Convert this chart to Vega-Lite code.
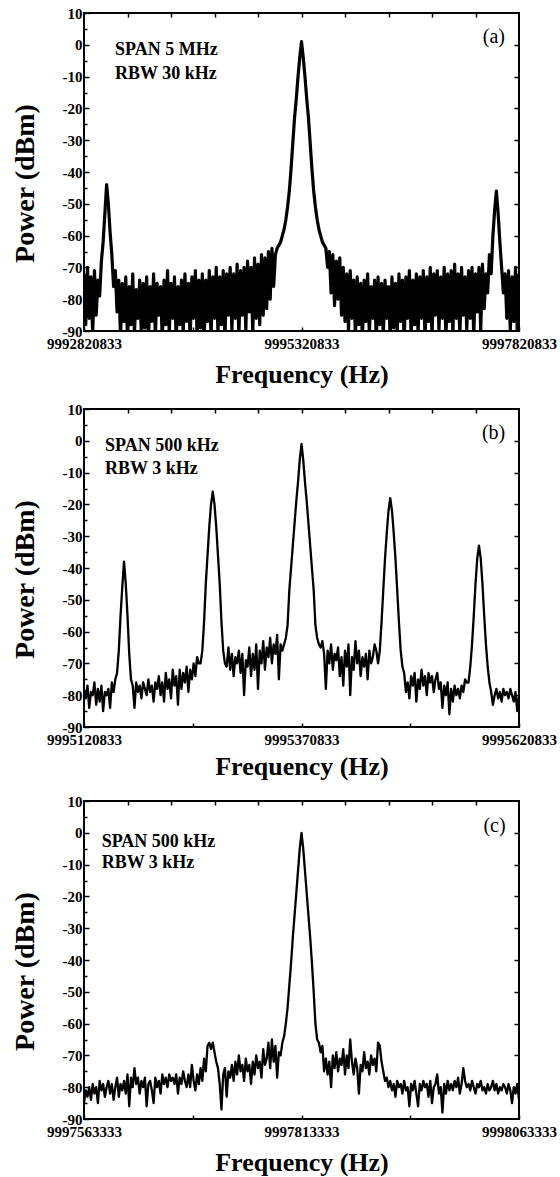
{
"$schema": "https://vega.github.io/schema/vega-lite/v6.json",
"padding": {"left": 10, "top": 5, "right": 0, "bottom": 0},
"spacing": 13,
"config": {
  "view": {"stroke": "black", "strokeWidth": 2},
  "axis": {"domain": false, "grid": false, "labelFont": "Liberation Serif", "labelFontWeight": "bold", "labelFontSize": 15, "labelColor": "black", "titleFont": "Liberation Serif", "titleFontWeight": "bold", "titleFontSize": 26, "titleColor": "black", "tickColor": "black", "tickWidth": 1.5, "labelFlush": false, "labelOverlap": false, "labelBound": false},
  "axisBottom": {"labelPadding": 9, "titlePadding": 10, "tickSize": -4},
  "axisLeft": {"labelPadding": 7, "titlePadding": 23, "titleFontSize": 28, "titleY": 170},
  "text": {"font": "Liberation Serif", "fontWeight": "bold", "fontSize": 18, "color": "black", "align": "left", "baseline": "alphabetic"}
},
"datasets": {
"a": [
{"f":9992820833,"y":-72},{"f":9992840833,"y":-88},{"f":9992860833,"y":-70},{"f":9992880833,"y":-86},{"f":9992900833,"y":-73},{"f":9992920833,"y":-91},{"f":9992940833,"y":-71},{"f":9992960833,"y":-85},{"f":9992980833,"y":-74},{"f":9993000833,"y":-79},
{"f":9993020833,"y":-68},{"f":9993040833,"y":-62},{"f":9993060833,"y":-53},{"f":9993080833,"y":-44},{"f":9993100833,"y":-50},{"f":9993120833,"y":-59},{"f":9993140833,"y":-66},{"f":9993160833,"y":-76},{"f":9993180833,"y":-71},{"f":9993200833,"y":-84},
{"f":9993220833,"y":-74},{"f":9993240833,"y":-92},{"f":9993260833,"y":-75},{"f":9993280833,"y":-87},{"f":9993300833,"y":-73},{"f":9993320833,"y":-93},{"f":9993340833,"y":-76},{"f":9993360833,"y":-88},{"f":9993380833,"y":-72},{"f":9993400833,"y":-91},
{"f":9993420833,"y":-77},{"f":9993440833,"y":-86},{"f":9993460833,"y":-74},{"f":9993480833,"y":-92},{"f":9993500833,"y":-75},{"f":9993520833,"y":-89},{"f":9993540833,"y":-73},{"f":9993560833,"y":-94},{"f":9993580833,"y":-76},{"f":9993600833,"y":-87},
{"f":9993620833,"y":-72},{"f":9993640833,"y":-92},{"f":9993660833,"y":-75},{"f":9993680833,"y":-85},{"f":9993700833,"y":-76},{"f":9993720833,"y":-93},{"f":9993740833,"y":-74},{"f":9993760833,"y":-88},{"f":9993780833,"y":-71},{"f":9993800833,"y":-91},
{"f":9993820833,"y":-75},{"f":9993840833,"y":-86},{"f":9993860833,"y":-73},{"f":9993880833,"y":-94},{"f":9993900833,"y":-76},{"f":9993920833,"y":-88},{"f":9993940833,"y":-74},{"f":9993960833,"y":-91},{"f":9993980833,"y":-72},{"f":9994000833,"y":-87},
{"f":9994020833,"y":-75},{"f":9994040833,"y":-93},{"f":9994060833,"y":-73},{"f":9994080833,"y":-86},{"f":9994100833,"y":-71},{"f":9994120833,"y":-92},{"f":9994140833,"y":-74},{"f":9994160833,"y":-89},{"f":9994180833,"y":-72},{"f":9994200833,"y":-94},
{"f":9994220833,"y":-74},{"f":9994240833,"y":-87},{"f":9994260833,"y":-71},{"f":9994280833,"y":-92},{"f":9994300833,"y":-73},{"f":9994320833,"y":-86},{"f":9994340833,"y":-70},{"f":9994360833,"y":-91},{"f":9994380833,"y":-73},{"f":9994400833,"y":-88},
{"f":9994420833,"y":-71},{"f":9994440833,"y":-93},{"f":9994460833,"y":-72},{"f":9994480833,"y":-85},{"f":9994500833,"y":-70},{"f":9994520833,"y":-90},{"f":9994540833,"y":-72},{"f":9994560833,"y":-86},{"f":9994580833,"y":-69},{"f":9994600833,"y":-92},
{"f":9994620833,"y":-71},{"f":9994640833,"y":-85},{"f":9994660833,"y":-70},{"f":9994680833,"y":-90},{"f":9994700833,"y":-68},{"f":9994720833,"y":-84},{"f":9994740833,"y":-70},{"f":9994760833,"y":-91},{"f":9994780833,"y":-67},{"f":9994800833,"y":-86},
{"f":9994820833,"y":-69},{"f":9994840833,"y":-88},{"f":9994860833,"y":-66},{"f":9994880833,"y":-85},{"f":9994900833,"y":-67},{"f":9994920833,"y":-83},{"f":9994940833,"y":-65},{"f":9994960833,"y":-80},{"f":9994980833,"y":-64},{"f":9995000833,"y":-76},
{"f":9995020833,"y":-66},{"f":9995040833,"y":-64},{"f":9995060833,"y":-63},{"f":9995080833,"y":-62},{"f":9995100833,"y":-60},{"f":9995120833,"y":-58},{"f":9995140833,"y":-55},{"f":9995160833,"y":-51},{"f":9995180833,"y":-46},{"f":9995200833,"y":-39},
{"f":9995220833,"y":-31},{"f":9995240833,"y":-23},{"f":9995260833,"y":-17},{"f":9995280833,"y":-10},{"f":9995300833,"y":-4},{"f":9995320833,"y":1},{"f":9995340833,"y":-4},{"f":9995360833,"y":-10},{"f":9995380833,"y":-17},{"f":9995400833,"y":-23},
{"f":9995420833,"y":-31},{"f":9995440833,"y":-39},{"f":9995460833,"y":-46},{"f":9995480833,"y":-51},{"f":9995500833,"y":-55},{"f":9995520833,"y":-58},{"f":9995540833,"y":-60},{"f":9995560833,"y":-62},{"f":9995580833,"y":-63},{"f":9995600833,"y":-64},
{"f":9995620833,"y":-70},{"f":9995640833,"y":-65},{"f":9995660833,"y":-78},{"f":9995680833,"y":-66},{"f":9995700833,"y":-82},{"f":9995720833,"y":-68},{"f":9995740833,"y":-80},{"f":9995760833,"y":-67},{"f":9995780833,"y":-85},{"f":9995800833,"y":-70},
{"f":9995820833,"y":-87},{"f":9995840833,"y":-72},{"f":9995860833,"y":-90},{"f":9995880833,"y":-71},{"f":9995900833,"y":-86},{"f":9995920833,"y":-74},{"f":9995940833,"y":-92},{"f":9995960833,"y":-73},{"f":9995980833,"y":-88},{"f":9996000833,"y":-75},
{"f":9996020833,"y":-93},{"f":9996040833,"y":-74},{"f":9996060833,"y":-87},{"f":9996080833,"y":-72},{"f":9996100833,"y":-91},{"f":9996120833,"y":-76},{"f":9996140833,"y":-86},{"f":9996160833,"y":-74},{"f":9996180833,"y":-94},{"f":9996200833,"y":-73},
{"f":9996220833,"y":-88},{"f":9996240833,"y":-75},{"f":9996260833,"y":-92},{"f":9996280833,"y":-74},{"f":9996300833,"y":-86},{"f":9996320833,"y":-76},{"f":9996340833,"y":-93},{"f":9996360833,"y":-73},{"f":9996380833,"y":-89},{"f":9996400833,"y":-75},
{"f":9996420833,"y":-91},{"f":9996440833,"y":-72},{"f":9996460833,"y":-87},{"f":9996480833,"y":-74},{"f":9996500833,"y":-94},{"f":9996520833,"y":-73},{"f":9996540833,"y":-86},{"f":9996560833,"y":-71},{"f":9996580833,"y":-92},{"f":9996600833,"y":-74},
{"f":9996620833,"y":-88},{"f":9996640833,"y":-72},{"f":9996660833,"y":-91},{"f":9996680833,"y":-73},{"f":9996700833,"y":-86},{"f":9996720833,"y":-71},{"f":9996740833,"y":-93},{"f":9996760833,"y":-73},{"f":9996780833,"y":-87},{"f":9996800833,"y":-70},
{"f":9996820833,"y":-92},{"f":9996840833,"y":-72},{"f":9996860833,"y":-85},{"f":9996880833,"y":-71},{"f":9996900833,"y":-90},{"f":9996920833,"y":-73},{"f":9996940833,"y":-86},{"f":9996960833,"y":-70},{"f":9996980833,"y":-93},{"f":9997000833,"y":-72},
{"f":9997020833,"y":-87},{"f":9997040833,"y":-71},{"f":9997060833,"y":-91},{"f":9997080833,"y":-69},{"f":9997100833,"y":-86},{"f":9997120833,"y":-72},{"f":9997140833,"y":-92},{"f":9997160833,"y":-70},{"f":9997180833,"y":-85},{"f":9997200833,"y":-73},
{"f":9997220833,"y":-90},{"f":9997240833,"y":-71},{"f":9997260833,"y":-86},{"f":9997280833,"y":-70},{"f":9997300833,"y":-92},{"f":9997320833,"y":-72},{"f":9997340833,"y":-84},{"f":9997360833,"y":-70},{"f":9997380833,"y":-90},{"f":9997400833,"y":-69},
{"f":9997420833,"y":-83},{"f":9997440833,"y":-72},{"f":9997460833,"y":-78},{"f":9997480833,"y":-66},{"f":9997500833,"y":-72},{"f":9997520833,"y":-60},{"f":9997540833,"y":-52},{"f":9997560833,"y":-46},{"f":9997580833,"y":-53},{"f":9997600833,"y":-62},
{"f":9997620833,"y":-70},{"f":9997640833,"y":-78},{"f":9997660833,"y":-72},{"f":9997680833,"y":-86},{"f":9997700833,"y":-71},{"f":9997720833,"y":-90},{"f":9997740833,"y":-73},{"f":9997760833,"y":-87},{"f":9997780833,"y":-70},{"f":9997800833,"y":-91},
{"f":9997820833,"y":-72}
],
"b": [
{"f":9995120833,"y":-78},{"f":9995122833,"y":-81},{"f":9995124833,"y":-77},{"f":9995126833,"y":-84},{"f":9995128833,"y":-79},{"f":9995130833,"y":-80},{"f":9995132833,"y":-76},{"f":9995134833,"y":-83},{"f":9995136833,"y":-78},{"f":9995138833,"y":-82},
{"f":9995140833,"y":-77},{"f":9995142833,"y":-85},{"f":9995144833,"y":-79},{"f":9995146833,"y":-80},{"f":9995148833,"y":-78},{"f":9995150833,"y":-84},{"f":9995152833,"y":-76},{"f":9995154833,"y":-79},{"f":9995156833,"y":-75},{"f":9995158833,"y":-73},
{"f":9995160833,"y":-66},{"f":9995162833,"y":-55},{"f":9995164833,"y":-46},{"f":9995166833,"y":-38},{"f":9995168833,"y":-45},{"f":9995170833,"y":-55},{"f":9995172833,"y":-67},{"f":9995174833,"y":-75},{"f":9995176833,"y":-77},{"f":9995178833,"y":-84},
{"f":9995180833,"y":-76},{"f":9995182833,"y":-79},{"f":9995184833,"y":-77},{"f":9995186833,"y":-81},{"f":9995188833,"y":-76},{"f":9995190833,"y":-78},{"f":9995192833,"y":-80},{"f":9995194833,"y":-75},{"f":9995196833,"y":-79},{"f":9995198833,"y":-77},
{"f":9995200833,"y":-82},{"f":9995202833,"y":-76},{"f":9995204833,"y":-78},{"f":9995206833,"y":-74},{"f":9995208833,"y":-80},{"f":9995210833,"y":-76},{"f":9995212833,"y":-82},{"f":9995214833,"y":-73},{"f":9995216833,"y":-78},{"f":9995218833,"y":-75},
{"f":9995220833,"y":-81},{"f":9995222833,"y":-72},{"f":9995224833,"y":-77},{"f":9995226833,"y":-74},{"f":9995228833,"y":-83},{"f":9995230833,"y":-72},{"f":9995232833,"y":-78},{"f":9995234833,"y":-73},{"f":9995236833,"y":-76},{"f":9995238833,"y":-71},
{"f":9995240833,"y":-79},{"f":9995242833,"y":-72},{"f":9995244833,"y":-75},{"f":9995246833,"y":-70},{"f":9995248833,"y":-74},{"f":9995250833,"y":-68},{"f":9995252833,"y":-70},{"f":9995254833,"y":-70},{"f":9995256833,"y":-66},{"f":9995258833,"y":-57},
{"f":9995260833,"y":-45},{"f":9995262833,"y":-36},{"f":9995264833,"y":-27},{"f":9995266833,"y":-20},{"f":9995268833,"y":-16},{"f":9995270833,"y":-20},{"f":9995272833,"y":-27},{"f":9995274833,"y":-36},{"f":9995276833,"y":-45},{"f":9995278833,"y":-57},
{"f":9995280833,"y":-66},{"f":9995282833,"y":-70},{"f":9995284833,"y":-71},{"f":9995286833,"y":-65},{"f":9995288833,"y":-72},{"f":9995290833,"y":-67},{"f":9995292833,"y":-74},{"f":9995294833,"y":-68},{"f":9995296833,"y":-70},{"f":9995298833,"y":-66},
{"f":9995300833,"y":-73},{"f":9995302833,"y":-67},{"f":9995304833,"y":-80},{"f":9995306833,"y":-69},{"f":9995308833,"y":-71},{"f":9995310833,"y":-65},{"f":9995312833,"y":-74},{"f":9995314833,"y":-67},{"f":9995316833,"y":-72},{"f":9995318833,"y":-64},
{"f":9995320833,"y":-78},{"f":9995322833,"y":-66},{"f":9995324833,"y":-70},{"f":9995326833,"y":-63},{"f":9995328833,"y":-72},{"f":9995330833,"y":-65},{"f":9995332833,"y":-68},{"f":9995334833,"y":-62},{"f":9995336833,"y":-70},{"f":9995338833,"y":-64},
{"f":9995340833,"y":-67},{"f":9995342833,"y":-61},{"f":9995344833,"y":-75},{"f":9995346833,"y":-64},{"f":9995348833,"y":-66},{"f":9995350833,"y":-64},{"f":9995352833,"y":-62},{"f":9995354833,"y":-58},{"f":9995356833,"y":-47},{"f":9995358833,"y":-40},
{"f":9995360833,"y":-33},{"f":9995362833,"y":-26},{"f":9995364833,"y":-19},{"f":9995366833,"y":-13},{"f":9995368833,"y":-6},{"f":9995370833,"y":-1},{"f":9995372833,"y":-6},{"f":9995374833,"y":-13},{"f":9995376833,"y":-19},{"f":9995378833,"y":-26},
{"f":9995380833,"y":-33},{"f":9995382833,"y":-40},{"f":9995384833,"y":-47},{"f":9995386833,"y":-58},{"f":9995388833,"y":-62},{"f":9995390833,"y":-64},{"f":9995392833,"y":-65},{"f":9995394833,"y":-63},{"f":9995396833,"y":-67},{"f":9995398833,"y":-78},
{"f":9995400833,"y":-66},{"f":9995402833,"y":-70},{"f":9995404833,"y":-64},{"f":9995406833,"y":-72},{"f":9995408833,"y":-67},{"f":9995410833,"y":-69},{"f":9995412833,"y":-65},{"f":9995414833,"y":-74},{"f":9995416833,"y":-68},{"f":9995418833,"y":-77},
{"f":9995420833,"y":-66},{"f":9995422833,"y":-71},{"f":9995424833,"y":-64},{"f":9995426833,"y":-80},{"f":9995428833,"y":-68},{"f":9995430833,"y":-72},{"f":9995432833,"y":-63},{"f":9995434833,"y":-70},{"f":9995436833,"y":-66},{"f":9995438833,"y":-74},
{"f":9995440833,"y":-68},{"f":9995442833,"y":-71},{"f":9995444833,"y":-67},{"f":9995446833,"y":-75},{"f":9995448833,"y":-66},{"f":9995450833,"y":-70},{"f":9995452833,"y":-68},{"f":9995454833,"y":-64},{"f":9995456833,"y":-66},{"f":9995458833,"y":-70},
{"f":9995460833,"y":-66},{"f":9995462833,"y":-57},{"f":9995464833,"y":-47},{"f":9995466833,"y":-37},{"f":9995468833,"y":-29},{"f":9995470833,"y":-22},{"f":9995472833,"y":-18},{"f":9995474833,"y":-22},{"f":9995476833,"y":-29},{"f":9995478833,"y":-37},
{"f":9995480833,"y":-47},{"f":9995482833,"y":-57},{"f":9995484833,"y":-66},{"f":9995486833,"y":-71},{"f":9995488833,"y":-73},{"f":9995490833,"y":-79},{"f":9995492833,"y":-76},{"f":9995494833,"y":-81},{"f":9995496833,"y":-74},{"f":9995498833,"y":-77},
{"f":9995500833,"y":-73},{"f":9995502833,"y":-82},{"f":9995504833,"y":-75},{"f":9995506833,"y":-78},{"f":9995508833,"y":-72},{"f":9995510833,"y":-77},{"f":9995512833,"y":-74},{"f":9995514833,"y":-80},{"f":9995516833,"y":-73},{"f":9995518833,"y":-76},
{"f":9995520833,"y":-74},{"f":9995522833,"y":-79},{"f":9995524833,"y":-75},{"f":9995526833,"y":-73},{"f":9995528833,"y":-78},{"f":9995530833,"y":-76},{"f":9995532833,"y":-84},{"f":9995534833,"y":-77},{"f":9995536833,"y":-80},{"f":9995538833,"y":-76},
{"f":9995540833,"y":-86},{"f":9995542833,"y":-78},{"f":9995544833,"y":-82},{"f":9995546833,"y":-77},{"f":9995548833,"y":-80},{"f":9995550833,"y":-78},{"f":9995552833,"y":-81},{"f":9995554833,"y":-77},{"f":9995556833,"y":-79},{"f":9995558833,"y":-75},
{"f":9995560833,"y":-76},{"f":9995562833,"y":-76},{"f":9995564833,"y":-71},{"f":9995566833,"y":-64},{"f":9995568833,"y":-55},{"f":9995570833,"y":-45},{"f":9995572833,"y":-37},{"f":9995574833,"y":-33},{"f":9995576833,"y":-37},{"f":9995578833,"y":-45},
{"f":9995580833,"y":-55},{"f":9995582833,"y":-64},{"f":9995584833,"y":-71},{"f":9995586833,"y":-76},{"f":9995588833,"y":-79},{"f":9995590833,"y":-83},{"f":9995592833,"y":-80},{"f":9995594833,"y":-78},{"f":9995596833,"y":-81},{"f":9995598833,"y":-79},
{"f":9995600833,"y":-82},{"f":9995602833,"y":-78},{"f":9995604833,"y":-80},{"f":9995606833,"y":-79},{"f":9995608833,"y":-81},{"f":9995610833,"y":-78},{"f":9995612833,"y":-80},{"f":9995614833,"y":-82},{"f":9995616833,"y":-79},{"f":9995618833,"y":-85},
{"f":9995620833,"y":-80}
],
"c": [
{"f":9997563333,"y":-85},{"f":9997565333,"y":-81},{"f":9997567333,"y":-83},{"f":9997569333,"y":-80},{"f":9997571333,"y":-84},{"f":9997573333,"y":-79},{"f":9997575333,"y":-82},{"f":9997577333,"y":-80},{"f":9997579333,"y":-85},{"f":9997581333,"y":-78},
{"f":9997583333,"y":-81},{"f":9997585333,"y":-79},{"f":9997587333,"y":-83},{"f":9997589333,"y":-80},{"f":9997591333,"y":-78},{"f":9997593333,"y":-82},{"f":9997595333,"y":-79},{"f":9997597333,"y":-84},{"f":9997599333,"y":-80},{"f":9997601333,"y":-77},
{"f":9997603333,"y":-83},{"f":9997605333,"y":-79},{"f":9997607333,"y":-81},{"f":9997609333,"y":-78},{"f":9997611333,"y":-82},{"f":9997613333,"y":-76},{"f":9997615333,"y":-86},{"f":9997617333,"y":-77},{"f":9997619333,"y":-80},{"f":9997621333,"y":-74},
{"f":9997623333,"y":-79},{"f":9997625333,"y":-77},{"f":9997627333,"y":-82},{"f":9997629333,"y":-78},{"f":9997631333,"y":-80},{"f":9997633333,"y":-77},{"f":9997635333,"y":-86},{"f":9997637333,"y":-79},{"f":9997639333,"y":-78},{"f":9997641333,"y":-81},
{"f":9997643333,"y":-85},{"f":9997645333,"y":-77},{"f":9997647333,"y":-80},{"f":9997649333,"y":-78},{"f":9997651333,"y":-82},{"f":9997653333,"y":-76},{"f":9997655333,"y":-79},{"f":9997657333,"y":-77},{"f":9997659333,"y":-80},{"f":9997661333,"y":-76},
{"f":9997663333,"y":-78},{"f":9997665333,"y":-77},{"f":9997667333,"y":-79},{"f":9997669333,"y":-76},{"f":9997671333,"y":-82},{"f":9997673333,"y":-77},{"f":9997675333,"y":-79},{"f":9997677333,"y":-75},{"f":9997679333,"y":-78},{"f":9997681333,"y":-80},
{"f":9997683333,"y":-76},{"f":9997685333,"y":-80},{"f":9997687333,"y":-73},{"f":9997689333,"y":-78},{"f":9997691333,"y":-81},{"f":9997693333,"y":-76},{"f":9997695333,"y":-79},{"f":9997697333,"y":-74},{"f":9997699333,"y":-78},{"f":9997701333,"y":-71},
{"f":9997703333,"y":-75},{"f":9997705333,"y":-67},{"f":9997707333,"y":-66},{"f":9997709333,"y":-68},{"f":9997711333,"y":-66},{"f":9997713333,"y":-69},{"f":9997715333,"y":-72},{"f":9997717333,"y":-74},{"f":9997719333,"y":-79},{"f":9997721333,"y":-87},
{"f":9997723333,"y":-76},{"f":9997725333,"y":-74},{"f":9997727333,"y":-83},{"f":9997729333,"y":-75},{"f":9997731333,"y":-77},{"f":9997733333,"y":-73},{"f":9997735333,"y":-78},{"f":9997737333,"y":-72},{"f":9997739333,"y":-76},{"f":9997741333,"y":-70},
{"f":9997743333,"y":-75},{"f":9997745333,"y":-73},{"f":9997747333,"y":-78},{"f":9997749333,"y":-71},{"f":9997751333,"y":-75},{"f":9997753333,"y":-73},{"f":9997755333,"y":-79},{"f":9997757333,"y":-72},{"f":9997759333,"y":-76},{"f":9997761333,"y":-70},
{"f":9997763333,"y":-74},{"f":9997765333,"y":-72},{"f":9997767333,"y":-77},{"f":9997769333,"y":-68},{"f":9997771333,"y":-73},{"f":9997773333,"y":-71},{"f":9997775333,"y":-66},{"f":9997777333,"y":-74},{"f":9997779333,"y":-65},{"f":9997781333,"y":-72},
{"f":9997783333,"y":-67},{"f":9997785333,"y":-77},{"f":9997787333,"y":-69},{"f":9997789333,"y":-70},{"f":9997791333,"y":-66},{"f":9997793333,"y":-64},{"f":9997795333,"y":-60},{"f":9997797333,"y":-55},{"f":9997799333,"y":-48},{"f":9997801333,"y":-41},
{"f":9997803333,"y":-33},{"f":9997805333,"y":-26},{"f":9997807333,"y":-19},{"f":9997809333,"y":-12},{"f":9997811333,"y":-5},{"f":9997813333,"y":0},{"f":9997815333,"y":-5},{"f":9997817333,"y":-12},{"f":9997819333,"y":-19},{"f":9997821333,"y":-26},
{"f":9997823333,"y":-33},{"f":9997825333,"y":-41},{"f":9997827333,"y":-50},{"f":9997829333,"y":-60},{"f":9997831333,"y":-65},{"f":9997833333,"y":-66},{"f":9997835333,"y":-69},{"f":9997837333,"y":-67},{"f":9997839333,"y":-75},{"f":9997841333,"y":-71},
{"f":9997843333,"y":-76},{"f":9997845333,"y":-72},{"f":9997847333,"y":-80},{"f":9997849333,"y":-70},{"f":9997851333,"y":-74},{"f":9997853333,"y":-69},{"f":9997855333,"y":-75},{"f":9997857333,"y":-71},{"f":9997859333,"y":-73},{"f":9997861333,"y":-68},
{"f":9997863333,"y":-76},{"f":9997865333,"y":-70},{"f":9997867333,"y":-74},{"f":9997869333,"y":-65},{"f":9997871333,"y":-72},{"f":9997873333,"y":-76},{"f":9997875333,"y":-71},{"f":9997877333,"y":-74},{"f":9997879333,"y":-82},{"f":9997881333,"y":-73},
{"f":9997883333,"y":-75},{"f":9997885333,"y":-69},{"f":9997887333,"y":-74},{"f":9997889333,"y":-72},{"f":9997891333,"y":-76},{"f":9997893333,"y":-70},{"f":9997895333,"y":-73},{"f":9997897333,"y":-71},{"f":9997899333,"y":-75},{"f":9997901333,"y":-66},
{"f":9997903333,"y":-67},{"f":9997905333,"y":-72},{"f":9997907333,"y":-75},{"f":9997909333,"y":-78},{"f":9997911333,"y":-77},{"f":9997913333,"y":-80},{"f":9997915333,"y":-78},{"f":9997917333,"y":-81},{"f":9997919333,"y":-79},{"f":9997921333,"y":-83},
{"f":9997923333,"y":-78},{"f":9997925333,"y":-80},{"f":9997927333,"y":-79},{"f":9997929333,"y":-82},{"f":9997931333,"y":-78},{"f":9997933333,"y":-81},{"f":9997935333,"y":-80},{"f":9997937333,"y":-86},{"f":9997939333,"y":-79},{"f":9997941333,"y":-81},
{"f":9997943333,"y":-78},{"f":9997945333,"y":-82},{"f":9997947333,"y":-86},{"f":9997949333,"y":-79},{"f":9997951333,"y":-81},{"f":9997953333,"y":-78},{"f":9997955333,"y":-80},{"f":9997957333,"y":-79},{"f":9997959333,"y":-83},{"f":9997961333,"y":-78},
{"f":9997963333,"y":-85},{"f":9997965333,"y":-80},{"f":9997967333,"y":-79},{"f":9997969333,"y":-76},{"f":9997971333,"y":-82},{"f":9997973333,"y":-80},{"f":9997975333,"y":-88},{"f":9997977333,"y":-79},{"f":9997979333,"y":-82},{"f":9997981333,"y":-78},
{"f":9997983333,"y":-81},{"f":9997985333,"y":-79},{"f":9997987333,"y":-81},{"f":9997989333,"y":-78},{"f":9997991333,"y":-80},{"f":9997993333,"y":-77},{"f":9997995333,"y":-82},{"f":9997997333,"y":-79},{"f":9997999333,"y":-74},{"f":9998001333,"y":-78},
{"f":9998003333,"y":-80},{"f":9998005333,"y":-79},{"f":9998007333,"y":-81},{"f":9998009333,"y":-78},{"f":9998011333,"y":-80},{"f":9998013333,"y":-82},{"f":9998015333,"y":-79},{"f":9998017333,"y":-80},{"f":9998019333,"y":-78},{"f":9998021333,"y":-81},
{"f":9998023333,"y":-80},{"f":9998025333,"y":-82},{"f":9998027333,"y":-79},{"f":9998029333,"y":-81},{"f":9998031333,"y":-80},{"f":9998033333,"y":-78},{"f":9998035333,"y":-81},{"f":9998037333,"y":-79},{"f":9998039333,"y":-82},{"f":9998041333,"y":-80},
{"f":9998043333,"y":-81},{"f":9998045333,"y":-79},{"f":9998047333,"y":-80},{"f":9998049333,"y":-82},{"f":9998051333,"y":-79},{"f":9998053333,"y":-81},{"f":9998055333,"y":-85},{"f":9998057333,"y":-80},{"f":9998059333,"y":-82},{"f":9998061333,"y":-79},
{"f":9998063333,"y":-84}
]
},
"vconcat": [
{
 "width": 435, "height": 318,
 "layer": [
  {"data": {"name": "a"},
   "mark": {"type": "line", "color": "black", "strokeWidth": 3.2, "strokeJoin": "round", "clip": true},
   "encoding": {
    "x": {"field": "f", "type": "quantitative", "scale": {"domain": [9992820833, 9997820833], "nice": false, "zero": false},
          "axis": {"orient": "bottom", "title": "Frequency (Hz)", "values": [9992820833, 9994070833, 9995320833, 9996570833, 9997820833], "labelExpr": "(datum.value - 9992820833) % 2500000 === 0 ? '' + datum.value : ''"}},
    "y": {"field": "y", "type": "quantitative", "scale": {"domain": [-90, 10], "nice": false, "zero": false},
          "axis": {"orient": "left", "title": "Power (dBm)", "values": [-90,-85,-80,-75,-70,-65,-60,-55,-50,-45,-40,-35,-30,-25,-20,-15,-10,-5,0,5,10], "labelExpr": "datum.value % 10 === 0 ? '' + datum.value : ''", "tickSize": {"condition": {"test": "datum.value % 10 === 0", "value": -5}, "value": -3}}}
   }},
  {"data": {"name": "a"},
   "mark": {"type": "line", "opacity": 0},
   "encoding": {
    "x": {"field": "f", "type": "quantitative", "axis": {"orient": "top", "title": null, "labels": false, "tickSize": -4, "values": [9993320833, 9993820833, 9994320833, 9994820833, 9995320833, 9995820833, 9996320833, 9996820833, 9997320833]}},
    "y": {"field": "y", "type": "quantitative", "axis": {"orient": "right", "title": null, "labels": false, "tickSize": -5, "values": [-80,-70,-60,-50,-40,-30,-20,-10,0]}}
   }},
  {"data": {"values": [{"t": "SPAN 5 MHz"}]}, "mark": {"type": "text"},
   "encoding": {"text": {"field": "t"}, "x": {"datum": 9993177000, "type": "quantitative", "axis": null}, "y": {"datum": -3.2, "type": "quantitative", "axis": null}}},
  {"data": {"values": [{"t": "RBW 30 kHz"}]}, "mark": {"type": "text"},
   "encoding": {"text": {"field": "t"}, "x": {"datum": 9993177000, "type": "quantitative", "axis": null}, "y": {"datum": -10.8, "type": "quantitative", "axis": null}}},
  {"data": {"values": [{"t": "(a)"}]}, "mark": {"type": "text", "fontWeight": "normal", "fontSize": 20, "align": "right"},
   "encoding": {"text": {"field": "t"}, "x": {"datum": 9997660000, "type": "quantitative", "axis": null}, "y": {"datum": 0.6, "type": "quantitative", "axis": null}}}
 ],
 "resolve": {"axis": {"x": "independent", "y": "independent"}}
},
{
 "width": 435, "height": 318,
 "layer": [
  {"data": {"name": "b"},
   "mark": {"type": "line", "color": "black", "strokeWidth": 2.3, "strokeJoin": "round", "clip": true},
   "encoding": {
    "x": {"field": "f", "type": "quantitative", "scale": {"domain": [9995120833, 9995620833], "nice": false, "zero": false},
          "axis": {"orient": "bottom", "title": "Frequency (Hz)", "titlePadding": 6, "values": [9995120833, 9995245833, 9995370833, 9995495833, 9995620833], "labelExpr": "(datum.value - 9995120833) % 250000 === 0 ? '' + datum.value : ''"}},
    "y": {"field": "y", "type": "quantitative", "scale": {"domain": [-90, 10], "nice": false, "zero": false},
          "axis": {"orient": "left", "title": "Power (dBm)", "values": [-90,-85,-80,-75,-70,-65,-60,-55,-50,-45,-40,-35,-30,-25,-20,-15,-10,-5,0,5,10], "labelExpr": "datum.value % 10 === 0 ? '' + datum.value : ''", "tickSize": {"condition": {"test": "datum.value % 10 === 0", "value": -5}, "value": -3}}}
   }},
  {"data": {"name": "b"},
   "mark": {"type": "line", "opacity": 0},
   "encoding": {
    "x": {"field": "f", "type": "quantitative", "axis": {"orient": "top", "title": null, "labels": false, "tickSize": -4, "values": [9995170833, 9995220833, 9995270833, 9995320833, 9995370833, 9995420833, 9995470833, 9995520833, 9995570833]}},
    "y": {"field": "y", "type": "quantitative", "axis": {"orient": "right", "title": null, "labels": false, "tickSize": -5, "values": [-80,-70,-60,-50,-40,-30,-20,-10,0]}}
   }},
  {"data": {"values": [{"t": "SPAN 500 kHz"}]}, "mark": {"type": "text"},
   "encoding": {"text": {"field": "t"}, "x": {"datum": 9995145000, "type": "quantitative", "axis": null}, "y": {"datum": -3.2, "type": "quantitative", "axis": null}}},
  {"data": {"values": [{"t": "RBW 3 kHz"}]}, "mark": {"type": "text"},
   "encoding": {"text": {"field": "t"}, "x": {"datum": 9995145000, "type": "quantitative", "axis": null}, "y": {"datum": -10.5, "type": "quantitative", "axis": null}}},
  {"data": {"values": [{"t": "(b)"}]}, "mark": {"type": "text", "fontWeight": "normal", "fontSize": 20, "align": "right"},
   "encoding": {"text": {"field": "t"}, "x": {"datum": 9995605000, "type": "quantitative", "axis": null}, "y": {"datum": 0.5, "type": "quantitative", "axis": null}}}
 ],
 "resolve": {"axis": {"x": "independent", "y": "independent"}}
},
{
 "width": 435, "height": 318,
 "layer": [
  {"data": {"name": "c"},
   "mark": {"type": "line", "color": "black", "strokeWidth": 2.3, "strokeJoin": "round", "clip": true},
   "encoding": {
    "x": {"field": "f", "type": "quantitative", "scale": {"domain": [9997563333, 9998063333], "nice": false, "zero": false},
          "axis": {"orient": "bottom", "title": "Frequency (Hz)", "values": [9997563333, 9997688333, 9997813333, 9997938333, 9998063333], "labelExpr": "(datum.value - 9997563333) % 250000 === 0 ? '' + datum.value : ''"}},
    "y": {"field": "y", "type": "quantitative", "scale": {"domain": [-90, 10], "nice": false, "zero": false},
          "axis": {"orient": "left", "title": "Power (dBm)", "values": [-90,-85,-80,-75,-70,-65,-60,-55,-50,-45,-40,-35,-30,-25,-20,-15,-10,-5,0,5,10], "labelExpr": "datum.value % 10 === 0 ? '' + datum.value : ''", "tickSize": {"condition": {"test": "datum.value % 10 === 0", "value": -5}, "value": -3}}}
   }},
  {"data": {"name": "c"},
   "mark": {"type": "line", "opacity": 0},
   "encoding": {
    "x": {"field": "f", "type": "quantitative", "axis": {"orient": "top", "title": null, "labels": false, "tickSize": -4, "values": [9997613333, 9997663333, 9997713333, 9997763333, 9997813333, 9997863333, 9997913333, 9997963333, 9998013333]}},
    "y": {"field": "y", "type": "quantitative", "axis": {"orient": "right", "title": null, "labels": false, "tickSize": -5, "values": [-80,-70,-60,-50,-40,-30,-20,-10,0]}}
   }},
  {"data": {"values": [{"t": "SPAN 500 kHz"}]}, "mark": {"type": "text"},
   "encoding": {"text": {"field": "t"}, "x": {"datum": 9997583650, "type": "quantitative", "axis": null}, "y": {"datum": -4.4, "type": "quantitative", "axis": null}}},
  {"data": {"values": [{"t": "RBW 3 kHz"}]}, "mark": {"type": "text"},
   "encoding": {"text": {"field": "t"}, "x": {"datum": 9997583650, "type": "quantitative", "axis": null}, "y": {"datum": -11.1, "type": "quantitative", "axis": null}}},
  {"data": {"values": [{"t": "(c)"}]}, "mark": {"type": "text", "fontWeight": "normal", "fontSize": 20, "align": "right"},
   "encoding": {"text": {"field": "t"}, "x": {"datum": 9998048000, "type": "quantitative", "axis": null}, "y": {"datum": 0.4, "type": "quantitative", "axis": null}}}
 ],
 "resolve": {"axis": {"x": "independent", "y": "independent"}}
}
]
}
